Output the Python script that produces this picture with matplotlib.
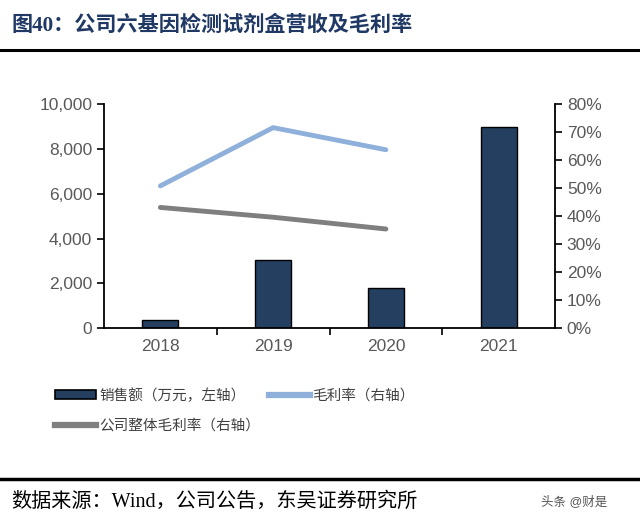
import matplotlib.pyplot as plt
import numpy as np
from matplotlib.lines import Line2D
from matplotlib.patches import Patch

plt.rcParams['font.family'] = ['Liberation Sans', 'Noto Sans CJK SC']

years = ['2018', '2019', '2020', '2021']
sales = [350, 3050, 1800, 9000]             # 万元
margin = [50.8, 71.6, 63.7]                 # %, 2018-2020
company_margin = [43.1, 39.6, 35.4]         # %, 2018-2020

fig = plt.figure(figsize=(6.4, 5.25), dpi=100)
ax = fig.add_axes([0.1625, 0.375, 0.7047, 0.4267])
ax2 = ax.twinx()

x = np.arange(len(years))
ax.bar(x, sales, width=0.32, color='#243F60', edgecolor='black', linewidth=1, zorder=2)
ax.set_ylim(0, 10000)
ax.set_xlim(-0.5, 3.5)
ax.set_yticks(np.arange(0, 10001, 2000))
ax.set_yticklabels([f'{v:,}' for v in range(0, 10001, 2000)])
ax.set_xticks(x)
ax.set_xticklabels(years)
ax.tick_params(axis='x', length=0, pad=8)
ax.set_xticks([0.5, 1.5, 2.5], minor=True)
ax.tick_params(axis='x', which='minor', length=5, width=1.2, direction='out')

ax2.plot(x[:3], margin, color='#8EB0DA', lw=3.5, solid_capstyle='round', zorder=3)
ax2.plot(x[:3], company_margin, color='#7F7F7F', lw=3.5, solid_capstyle='round', zorder=3)
ax2.set_ylim(0, 80)
ax2.set_yticks(np.arange(0, 81, 10))
ax2.set_yticklabels([f'{v}%' for v in range(0, 81, 10)])

for a in (ax, ax2):
    a.spines['top'].set_visible(False)
    for s in ('left', 'right', 'bottom'):
        a.spines[s].set_linewidth(1.3)
    a.tick_params(axis='y', labelsize=12.5, labelcolor='#595959', length=5, width=1.2)
    a.tick_params(axis='x', labelsize=12.5, labelcolor='#595959')
ax.spines['right'].set_visible(False)
ax2.spines['left'].set_visible(False)
ax2.spines['bottom'].set_visible(False)

handles = [Patch(facecolor='#243F60', edgecolor='black', linewidth=1.2),
           Line2D([], [], color='#7F7F7F', lw=4.5),
           Line2D([], [], color='#8EB0DA', lw=4.5)]
labels = ['销售额（万元，左轴）', '公司整体毛利率（右轴）', '毛利率（右轴）']
fig.legend(handles, labels, ncol=2, loc='upper left', bbox_to_anchor=(0.075, 0.275),
           frameon=False, fontsize=10.5, labelcolor='#404040', borderpad=0,
           handlelength=2.8, handleheight=0.6, handletextpad=0.2,
           columnspacing=0.6, labelspacing=1.1)

fig.text(0.018, 0.952, '图40：公司六基因检测试剂盒营收及毛利率', fontsize=15.2,
         fontweight='bold', color='#1F3864', va='center',
         family=['Liberation Serif', 'Noto Sans CJK SC'])
fig.add_artist(Line2D([0, 1], [0.905, 0.905], color='black', lw=2.2, transform=fig.transFigure))
fig.add_artist(Line2D([0, 1], [0.088, 0.088], color='black', lw=2.5, transform=fig.transFigure))
fig.text(0.018, 0.044, '数据来源：Wind，公司公告，东吴证券研究所', fontsize=14.5,
         color='black', va='center', family=['Liberation Serif', 'Noto Sans CJK SC'])
fig.text(0.845, 0.044, '头条 @财是', fontsize=9, color='#555555', va='center')

fig.savefig('out.png', dpi=100)
